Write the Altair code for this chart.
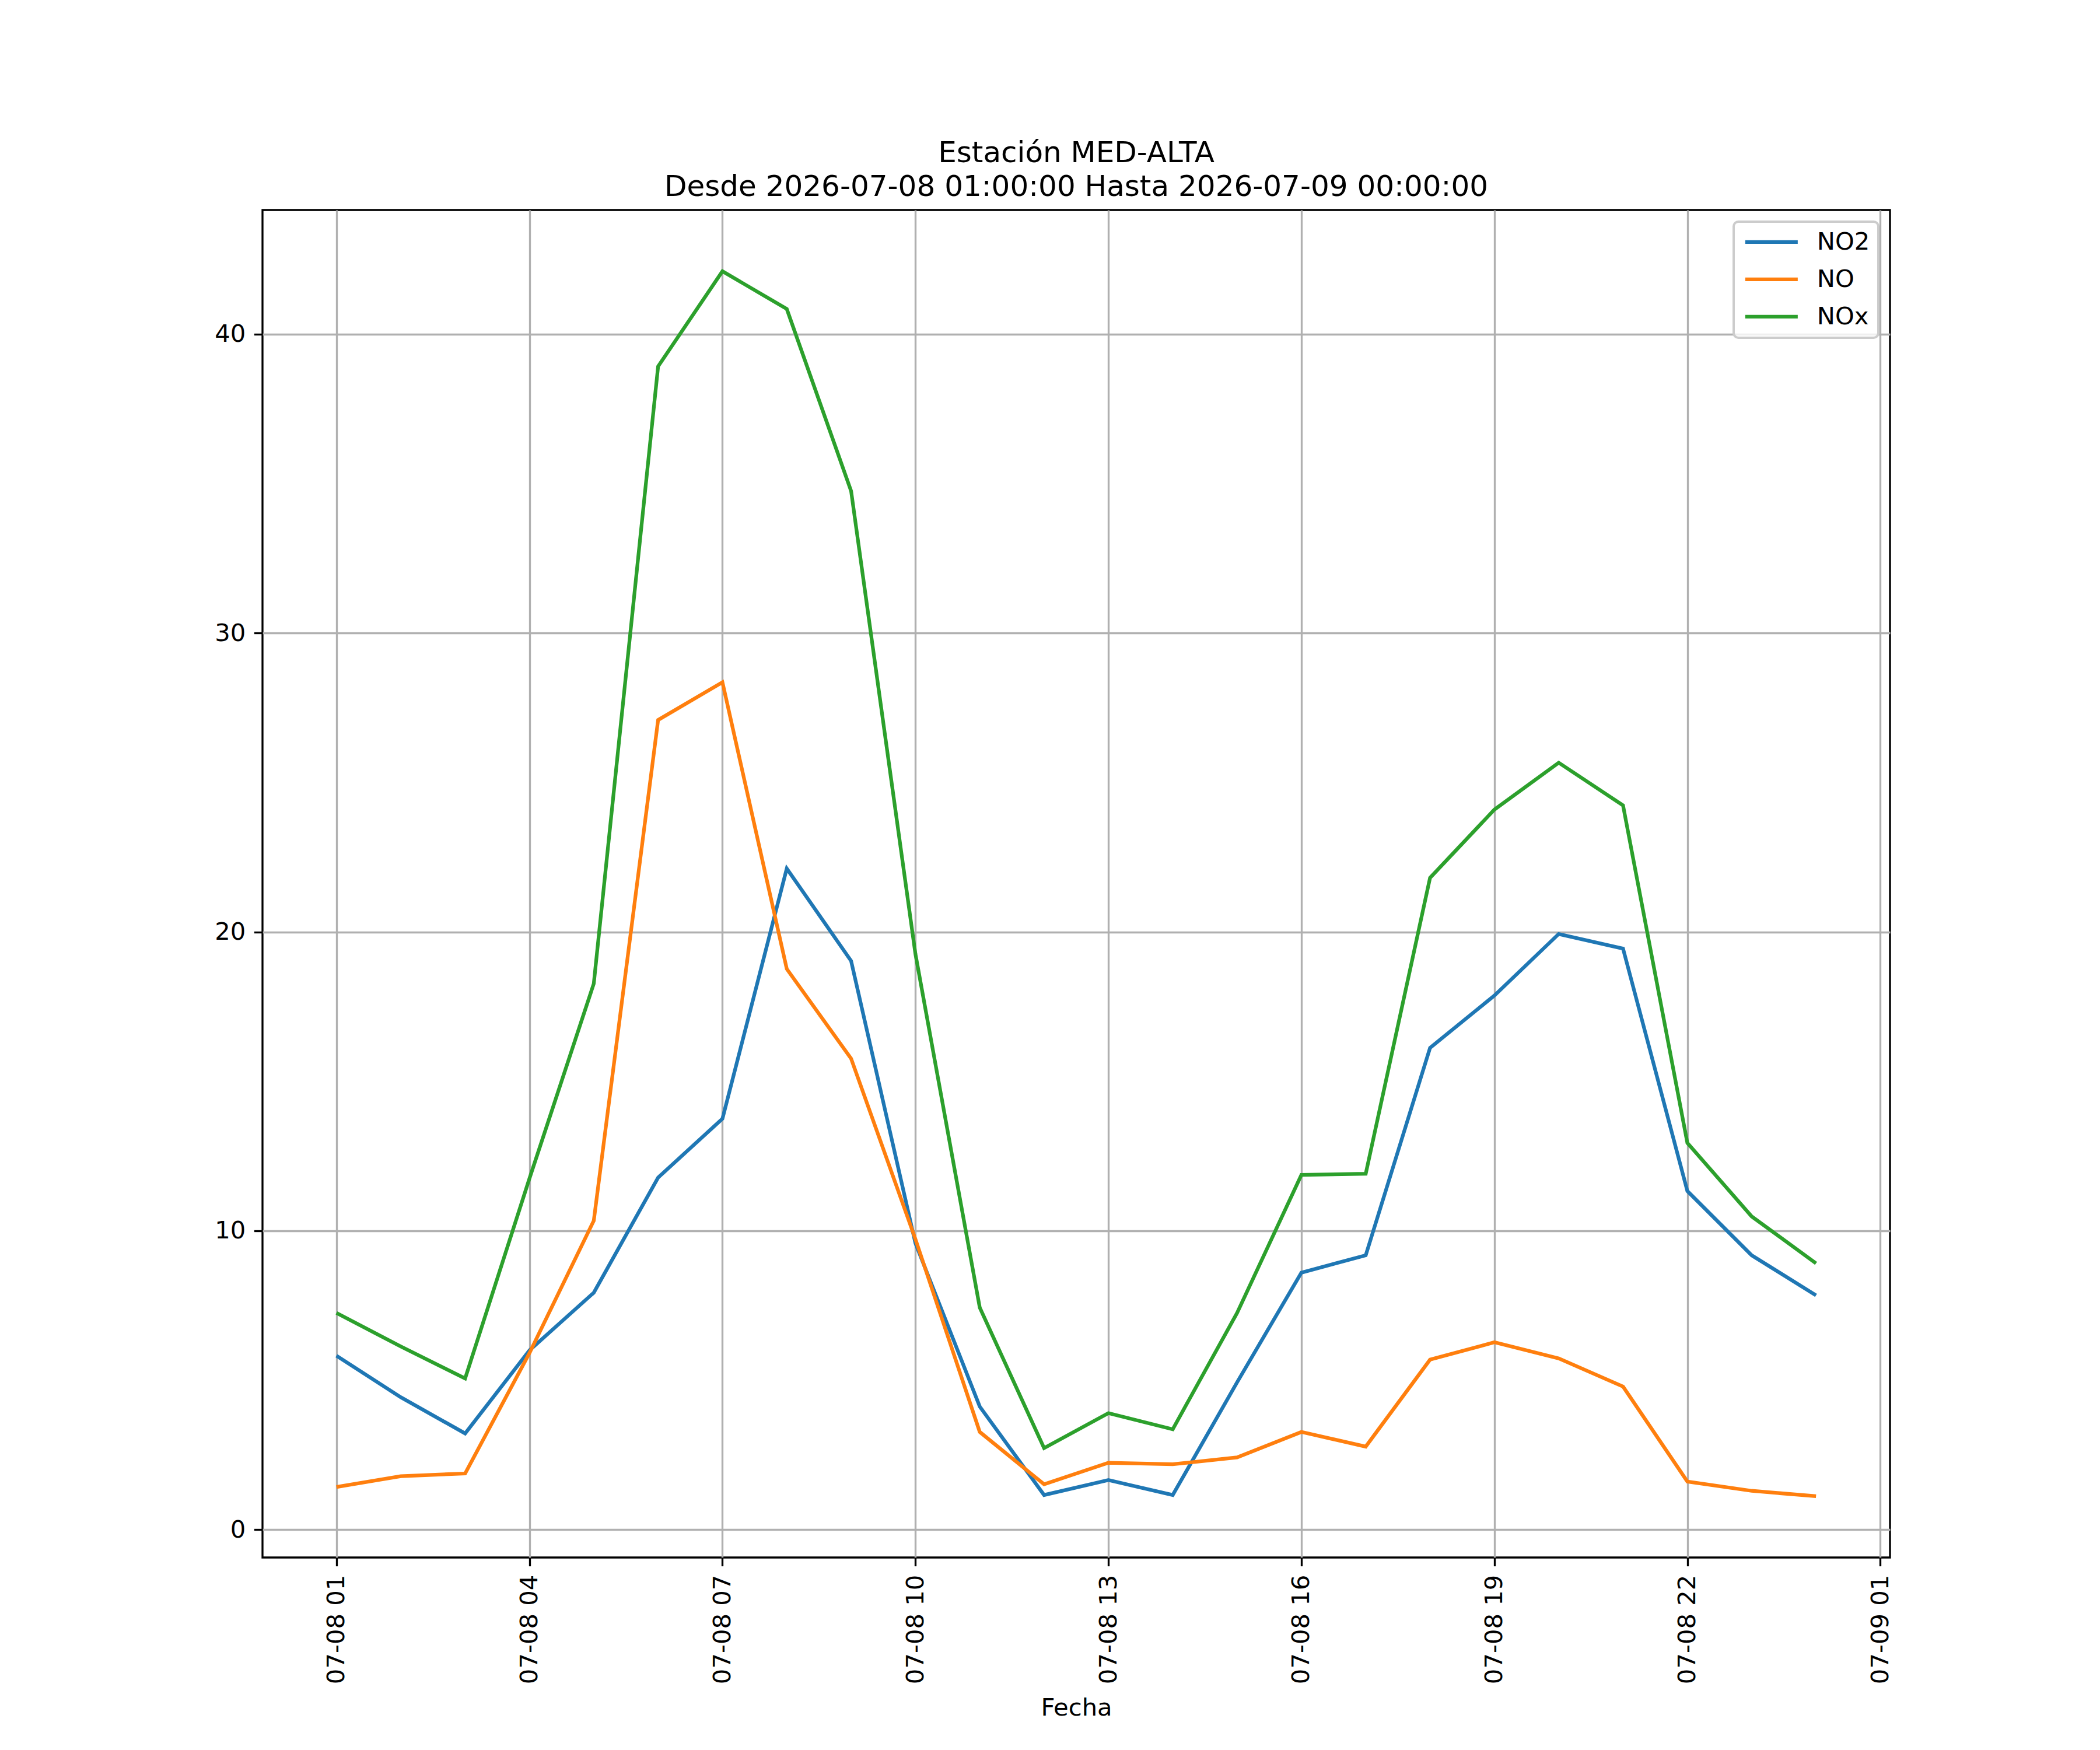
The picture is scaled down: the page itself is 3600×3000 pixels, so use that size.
import altair as alt
import pandas as pd

# Hourly timestamps (07-08 01:00 .. 07-09 00:00)
times = [
    "2026-07-08T01:00:00", "2026-07-08T02:00:00", "2026-07-08T03:00:00", "2026-07-08T04:00:00",
    "2026-07-08T05:00:00", "2026-07-08T06:00:00", "2026-07-08T07:00:00", "2026-07-08T08:00:00",
    "2026-07-08T09:00:00", "2026-07-08T10:00:00", "2026-07-08T11:00:00", "2026-07-08T12:00:00",
    "2026-07-08T13:00:00", "2026-07-08T14:00:00", "2026-07-08T15:00:00", "2026-07-08T16:00:00",
    "2026-07-08T17:00:00", "2026-07-08T18:00:00", "2026-07-08T19:00:00", "2026-07-08T20:00:00",
    "2026-07-08T21:00:00", "2026-07-08T22:00:00", "2026-07-08T23:00:00", "2026-07-09T00:00:00",
]

no2 = [5.82, 4.43, 3.22, 6.00, 7.93, 11.78, 13.75, 22.12, 19.03, 9.58, 4.12, 1.16,
       1.66, 1.16, 4.93, 8.60, 9.18, 16.12, 17.87, 19.93, 19.44, 11.33, 9.18, 7.84]
no = [1.43, 1.79, 1.88, 5.91, 10.34, 27.09, 28.35, 18.76, 15.76, 9.72, 3.27, 1.52,
      2.24, 2.19, 2.42, 3.27, 2.78, 5.69, 6.27, 5.73, 4.79, 1.61, 1.30, 1.12]
nox = [7.25, 6.13, 5.06, 11.75, 18.27, 38.92, 42.10, 40.84, 34.75, 19.26, 7.43, 2.73,
       3.90, 3.36, 7.25, 11.87, 11.91, 21.81, 24.09, 25.66, 24.23, 12.94, 10.48, 8.91]

series_names = ["NO2", "NO", "NOx"]
series_colors = ["#1f77b4", "#ff7f0e", "#2ca02c"]

y_ticks = [0, 10, 20, 30, 40]
x_tick_hours = [(8, 1), (8, 4), (8, 7), (8, 10), (8, 13), (8, 16), (8, 19), (8, 22), (9, 1)]

title_lines = ["Estación MED-ALTA", "Desde 2026-07-08 01:00:00 Hasta 2026-07-09 00:00:00"]

rows = []
for name, vals in zip(series_names, [no2, no, nox]):
    for t, v in zip(times, vals):
        rows.append({"Fecha": t, "valor": v, "serie": name})
df = pd.DataFrame(rows)

FONT = "DejaVu Sans"
FS = 41.7
LW = 3.33

x_values = [alt.DateTime(year=2026, month=7, date=d, hours=h) for d, h in x_tick_hours]

chart = alt.Chart(df).mark_line(strokeWidth=6.25).encode(
    x=alt.X(
        "Fecha:T",
        title="Fecha",
        scale=alt.Scale(domain=[
            alt.DateTime(year=2026, month=7, date=7, hours=23, minutes=51),
            alt.DateTime(year=2026, month=7, date=9, hours=1, minutes=9),
        ]),
        axis=alt.Axis(
            values=x_values,
            format="%m-%d %H",
            labelAngle=270,
            labelOverlap=False,
            labelFlush=False,
            labelLimit=0,
            titlePadding=37,
        ),
    ),
    y=alt.Y(
        "valor:Q",
        title=None,
        scale=alt.Scale(domain=[-0.93, 44.15], nice=False, zero=False),
        axis=alt.Axis(values=y_ticks, format="d"),
    ),
    color=alt.Color(
        "serie:N",
        sort=series_names,
        scale=alt.Scale(domain=series_names, range=series_colors),
        legend=alt.Legend(
            title=None,
            orient="top-right",
            offset=20,
            symbolType="M-3,0L3,0",
            symbolSize=900,
            symbolStrokeWidth=6.25,
            symbolOffset=30,
            labelFontSize=FS,
            labelFont=FONT,
            labelColor="black",
            labelOffset=57,
            padding=14,
            rowPadding=21,
            fillColor="rgba(255,255,255,0.8)",
            strokeColor="#cccccc",
            cornerRadius=8,
        ),
    ),
).properties(
    width=2790,
    height=2310,
    padding={"left": 442, "top": 352, "right": 352, "bottom": 322},
    autosize=alt.AutoSizeParams(type="none"),
    title=alt.TitleParams(
        text=title_lines,
        fontSize=50,
        font=FONT,
        fontWeight="normal",
        color="black",
        anchor="middle",
        baseline="bottom",
        offset=15,
        dy=51,
        lineHeight=58,
    ),
).configure_view(
    stroke="black",
    strokeWidth=LW,
).configure_axis(
    domain=False,
    grid=True,
    gridColor="#b0b0b0",
    gridWidth=LW,
    tickColor="black",
    tickWidth=LW,
    tickSize=14.6,
    labelPadding=14.6,
    labelFont=FONT,
    labelFontSize=FS,
    labelColor="black",
    titleFont=FONT,
    titleFontSize=FS,
    titleFontWeight="normal",
    titleColor="black",
).configure_legend(
    strokeWidth=4,
)

chart.save("out.html", embed_options={"renderer": "svg", "actions": False})
